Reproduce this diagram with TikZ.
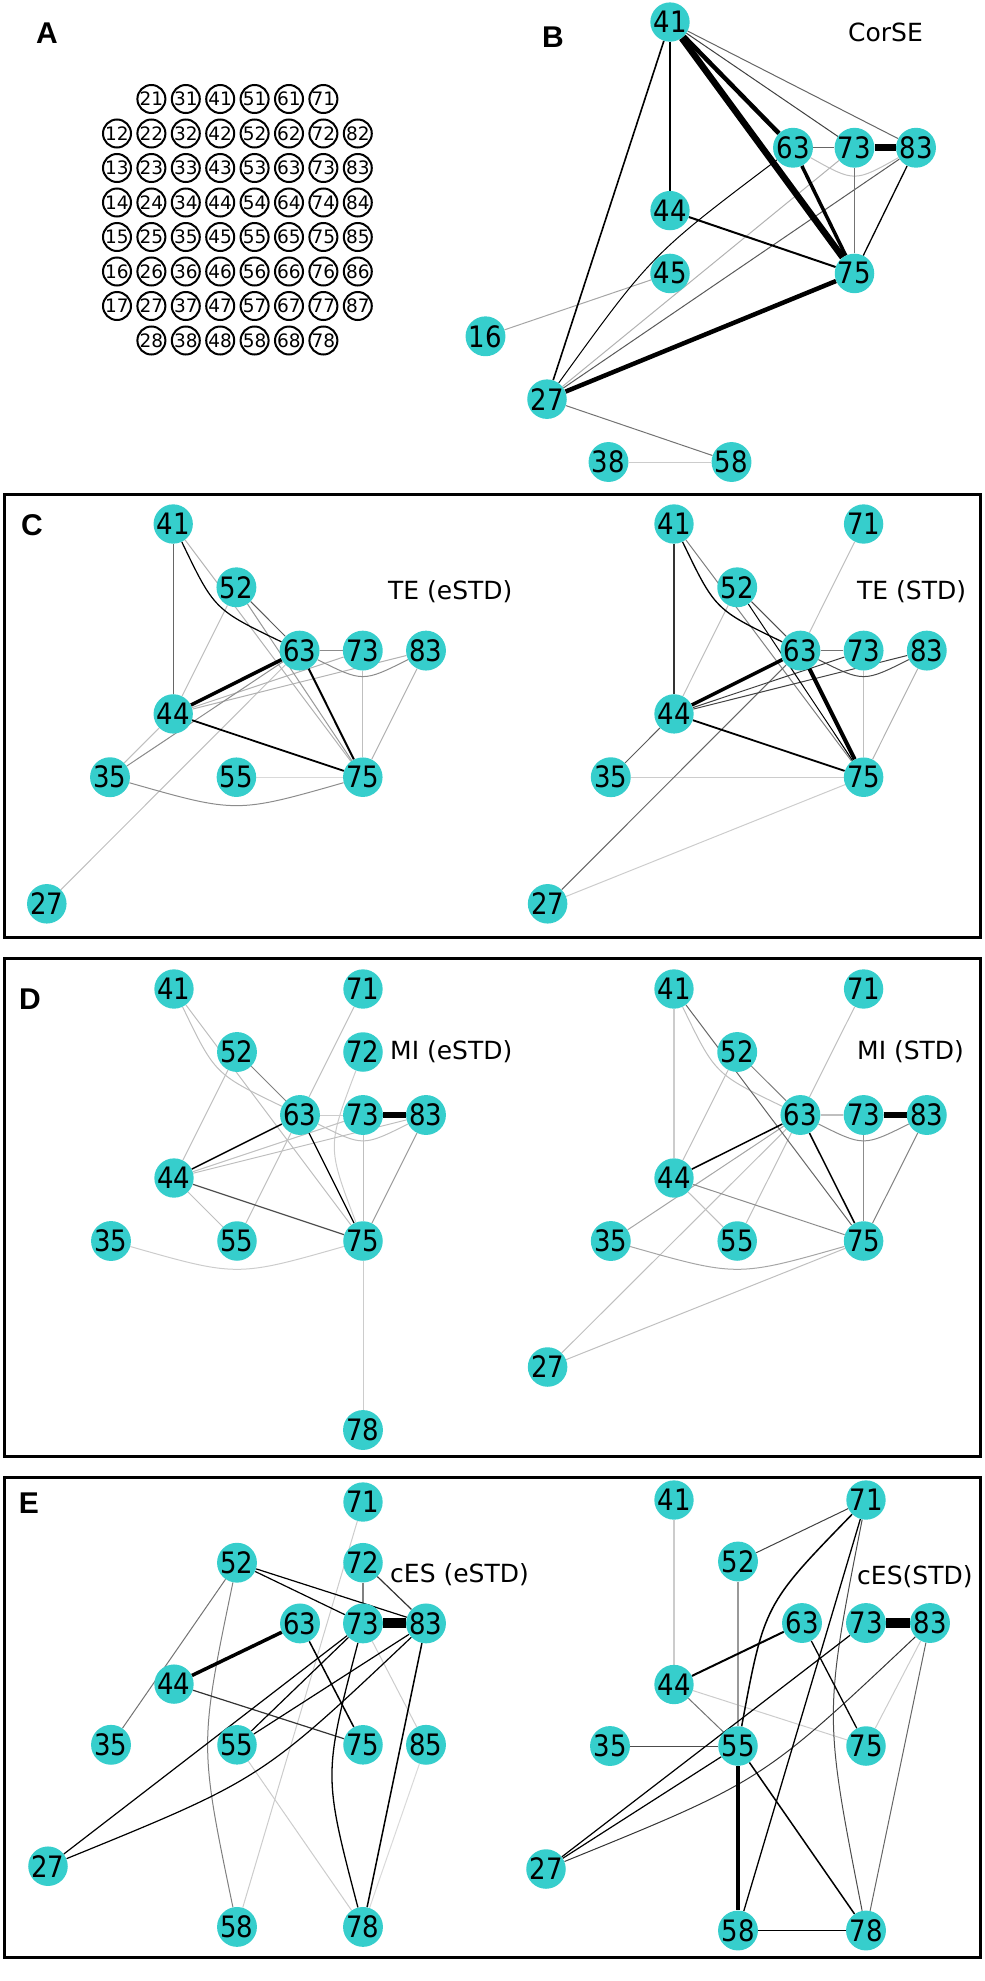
\documentclass[tikz,border=0pt]{standalone}
\usepackage{fontspec}
\newfontfamily\dvs{DejaVu Sans}
\newfontfamily\dvn[FakeStretch=0.88]{DejaVu Sans}
\newfontfamily\lbs{Liberation Sans}
\usetikzlibrary{backgrounds}
\definecolor{nodecyan}{RGB}{54,206,204}
\tikzset{
  nd/.style={circle, fill=nodecyan, inner sep=0pt, minimum size=38.5pt, font=\dvn\fontsize{29.5}{29.5}\selectfont},
  an/.style={circle, draw=black, line width=2pt, fill=white, inner sep=0pt, minimum size=28pt, font=\dvs\fontsize{18.5}{18.5}\selectfont},
  plab/.style={font=\lbs\bfseries\fontsize{30}{30}\selectfont, inner sep=0pt},
  ttl/.style={font=\dvs\fontsize{25}{25}\selectfont, inner sep=0pt, anchor=west},
  panelbox/.style={draw=black, line width=3pt},
  ed/.style 2 args={draw=black!#1, line width=#2pt}
}
\begin{document}
\begin{tikzpicture}[x=1pt, y=-1pt]
\useasboundingbox (0,0) rectangle (985,1981);

% ---------- Panel A ----------
\node[plab] (labA) at (47,33) {A};
\foreach \c in {1,...,8}{
  \foreach \r in {2,...,7}{
    \node[an] (a\c\r) at ({82.6+34.4*\c},{64.5+34.5*\r}) {\c\r};
  }
}
\foreach \c in {2,...,7}{
  \foreach \r in {1,8}{
    \node[an] (a\c\r) at ({82.6+34.4*\c},{64.5+34.5*\r}) {\c\r};
  }
}

% ---------- Panel B ----------
\node[plab] (labB) at (553,37) {B};
\node[ttl] (tB) at (848,32) {CorSE};
\begin{scope}[shift={(424,-40.8)}, x=61.5pt, y=-62.85pt]
  \node[nd] (b41) at (4,1) {41};
  \node[nd] (b63) at (6,3) {63};
  \node[nd] (b73) at (7,3) {73};
  \node[nd] (b83) at (8,3) {83};
  \node[nd] (b44) at (4,4) {44};
  \node[nd] (b45) at (4,5) {45};
  \node[nd] (b75) at (7,5) {75};
  \node[nd] (b16) at (1,6) {16};
  \node[nd] (b27) at (2,7) {27};
  \node[nd] (b38) at (3,8) {38};
  \node[nd] (b58) at (5,8) {58};
  \begin{scope}[on background layer]
    \draw[ed={20}{1}] (b38) -- (b58);
    \draw[ed={35}{1}] (b45) -- (b16);
    \draw[ed={55}{1}] (b27) -- (b58);
    \draw[ed={30}{1}] (b73) -- (b27);
    \draw[ed={25}{1}] (b63) .. controls (7,3.55) .. (b83);
    \draw[ed={65}{1}] (b83) -- (b27);
    \draw[ed={100}{1}] (b63) .. controls (3.7,4.7) .. (b27);
    \draw[ed={55}{1}] (b73) -- (b75);
    \draw[ed={60}{1}] (b41) -- (b83);
    \draw[ed={75}{1}] (b41) -- (b73);
    \draw[ed={60}{1.2}] (b63) -- (b73);
    \draw[ed={100}{1.3}] (b83) -- (b75);
    \draw[ed={100}{1.6}] (b41) -- (b44);
    \draw[ed={100}{1.6}] (b41) -- (b27);
    \draw[ed={100}{2}] (b44) -- (b75);
    \draw[ed={100}{3.5}] (b63) -- (b75);
    \draw[ed={100}{4.5}] (b41) -- (b63);
    \draw[ed={100}{4.5}] (b75) -- (b27);
    \draw[ed={100}{6.5}] (b41) -- (b75);
    \draw[ed={100}{7}] (b73) -- (b83);
  \end{scope}
\end{scope}

% ---------- Panel C ----------
\draw[panelbox] (4,494) rectangle (980,937);
\node[plab] (labC) at (32,525) {C};
\node[ttl] (tCl) at (388,592) {TE (eSTD)};
\node[ttl] (tCr) at (857,592) {TE (STD)};
\begin{scope}[shift={(-79.6,460.7)}, x=63.2pt, y=-63.3pt]
  \node[nd] (cl41) at (4,1) {41};
  \node[nd] (cl52) at (5,2) {52};
  \node[nd] (cl63) at (6,3) {63};
  \node[nd] (cl73) at (7,3) {73};
  \node[nd] (cl83) at (8,3) {83};
  \node[nd] (cl44) at (4,4) {44};
  \node[nd] (cl35) at (3,5) {35};
  \node[nd] (cl55) at (5,5) {55};
  \node[nd] (cl75) at (7,5) {75};
  \node[nd] (cl27) at (2,7) {27};
  \begin{scope}[on background layer]
    \draw[ed={15}{1}] (cl55) -- (cl75);
    \draw[ed={25}{1}] (cl27) -- (cl63);
    \draw[ed={25}{1}] (cl35) -- (cl44);
    \draw[ed={25}{1}] (cl52) -- (cl44);
    \draw[ed={30}{1}] (cl44) -- (cl73);
    \draw[ed={30}{1}] (cl44) -- (cl83);
    \draw[ed={30}{1}] (cl83) -- (cl75);
    \draw[ed={25}{1.2}] (cl73) -- (cl75);
    \draw[ed={30}{1}] (cl41) -- (cl75);
    \draw[ed={40}{1}] (cl52) -- (cl75);
    \draw[ed={45}{1}] (cl35) -- (cl63);
    \draw[ed={45}{1}] (cl35) .. controls (5,5.57) .. (cl75);
    \draw[ed={45}{1}] (cl63) .. controls (7,3.5) .. (cl83);
    \draw[ed={45}{1.3}] (cl63) -- (cl73);
    \draw[ed={65}{1}] (cl52) -- (cl63);
    \draw[ed={60}{1.2}] (cl41) -- (cl44);
    \draw[ed={100}{1.2}] (cl41) .. controls (4.65,2.35) .. (cl63);
    \draw[ed={100}{1.8}] (cl44) -- (cl75);
    \draw[ed={100}{2}] (cl63) -- (cl75);
    \draw[ed={100}{3.5}] (cl63) -- (cl44);
  \end{scope}
\end{scope}
\begin{scope}[shift={(421.2,460.7)}, x=63.2pt, y=-63.3pt]
  \node[nd] (cr41) at (4,1) {41};
  \node[nd] (cr71) at (7,1) {71};
  \node[nd] (cr52) at (5,2) {52};
  \node[nd] (cr63) at (6,3) {63};
  \node[nd] (cr73) at (7,3) {73};
  \node[nd] (cr83) at (8,3) {83};
  \node[nd] (cr44) at (4,4) {44};
  \node[nd] (cr35) at (3,5) {35};
  \node[nd] (cr75) at (7,5) {75};
  \node[nd] (cr27) at (2,7) {27};
  \begin{scope}[on background layer]
    \draw[ed={20}{1}] (cr35) -- (cr75);
    \draw[ed={20}{1}] (cr27) -- (cr75);
    \draw[ed={25}{1}] (cr71) -- (cr63);
    \draw[ed={25}{1}] (cr52) -- (cr44);
    \draw[ed={30}{1}] (cr83) -- (cr75);
    \draw[ed={25}{1.5}] (cr73) -- (cr75);
    \draw[ed={50}{1}] (cr41) -- (cr75);
    \draw[ed={60}{1}] (cr27) -- (cr63);
    \draw[ed={65}{1}] (cr35) -- (cr44);
    \draw[ed={55}{1.3}] (cr63) -- (cr73);
    \draw[ed={70}{1}] (cr52) -- (cr63);
    \draw[ed={70}{1}] (cr63) .. controls (7,3.5) .. (cr83);
    \draw[ed={75}{1}] (cr44) -- (cr73);
    \draw[ed={75}{1}] (cr44) -- (cr83);
    \draw[ed={100}{1}] (cr52) -- (cr75);
    \draw[ed={80}{1.5}] (cr41) -- (cr44);
    \draw[ed={100}{1.3}] (cr41) .. controls (4.65,2.35) .. (cr63);
    \draw[ed={100}{1.8}] (cr44) -- (cr75);
    \draw[ed={100}{3.5}] (cr44) -- (cr63);
    \draw[ed={100}{4}] (cr63) -- (cr75);
  \end{scope}
\end{scope}

% ---------- Panel D ----------
\draw[panelbox] (4,958) rectangle (980,1456);
\node[plab] (labD) at (30,999) {D};
\node[ttl] (tDl) at (390,1052) {MI (eSTD)};
\node[ttl] (tDr) at (857,1052) {MI (STD)};
\begin{scope}[shift={(-78,926)}, x=63pt, y=-63pt]
  \node[nd] (dl41) at (4,1) {41};
  \node[nd] (dl71) at (7,1) {71};
  \node[nd] (dl52) at (5,2) {52};
  \node[nd] (dl72) at (7,2) {72};
  \node[nd] (dl63) at (6,3) {63};
  \node[nd] (dl73) at (7,3) {73};
  \node[nd] (dl83) at (8,3) {83};
  \node[nd] (dl44) at (4,4) {44};
  \node[nd] (dl35) at (3,5) {35};
  \node[nd] (dl55) at (5,5) {55};
  \node[nd] (dl75) at (7,5) {75};
  \node[nd] (dl78) at (7,8) {78};
  \begin{scope}[on background layer]
    \draw[ed={20}{1}] (dl75) -- (dl78);
    \draw[ed={20}{1}] (dl35) .. controls (5,5.57) .. (dl75);
    \draw[ed={20}{1}] (dl72) .. controls (6.43,3.5) .. (dl75);
    \draw[ed={20}{1}] (dl63) -- (dl73);
    \draw[ed={25}{1}] (dl41) .. controls (4.65,2.35) .. (dl63);
    \draw[ed={25}{1}] (dl41) -- (dl75);
    \draw[ed={25}{1}] (dl71) -- (dl63);
    \draw[ed={25}{1}] (dl52) -- (dl44);
    \draw[ed={25}{1}] (dl63) .. controls (7,3.5) .. (dl83);
    \draw[ed={25}{1}] (dl44) -- (dl73);
    \draw[ed={25}{1}] (dl44) -- (dl83);
    \draw[ed={25}{1}] (dl44) -- (dl55);
    \draw[ed={25}{1}] (dl55) -- (dl63);
    \draw[ed={25}{1}] (dl73) -- (dl75);
    \draw[ed={40}{1}] (dl83) -- (dl75);
    \draw[ed={50}{1}] (dl52) -- (dl63);
    \draw[ed={70}{1.2}] (dl44) -- (dl75);
    \draw[ed={100}{1.3}] (dl63) -- (dl75);
    \draw[ed={100}{1.5}] (dl44) -- (dl63);
    \draw[ed={100}{6}] (dl73) -- (dl83);
  \end{scope}
\end{scope}
\begin{scope}[shift={(421.2,926)}, x=63.2pt, y=-63pt]
  \node[nd] (dr41) at (4,1) {41};
  \node[nd] (dr71) at (7,1) {71};
  \node[nd] (dr52) at (5,2) {52};
  \node[nd] (dr63) at (6,3) {63};
  \node[nd] (dr73) at (7,3) {73};
  \node[nd] (dr83) at (8,3) {83};
  \node[nd] (dr44) at (4,4) {44};
  \node[nd] (dr35) at (3,5) {35};
  \node[nd] (dr55) at (5,5) {55};
  \node[nd] (dr75) at (7,5) {75};
  \node[nd] (dr27) at (2,7) {27};
  \begin{scope}[on background layer]
    \draw[ed={20}{1.2}] (dr41) -- (dr44);
    \draw[ed={25}{1}] (dr41) .. controls (4.65,2.35) .. (dr63);
    \draw[ed={25}{1}] (dr71) -- (dr63);
    \draw[ed={25}{1}] (dr52) -- (dr44);
    \draw[ed={25}{1.2}] (dr63) -- (dr73);
    \draw[ed={25}{1}] (dr27) -- (dr63);
    \draw[ed={25}{1}] (dr55) -- (dr63);
    \draw[ed={25}{1}] (dr44) -- (dr55);
    \draw[ed={25}{1}] (dr27) -- (dr75);
    \draw[ed={35}{1}] (dr35) -- (dr63);
    \draw[ed={35}{1}] (dr35) .. controls (5,5.57) .. (dr75);
    \draw[ed={45}{1}] (dr63) .. controls (7,3.5) .. (dr83);
    \draw[ed={45}{1}] (dr44) -- (dr75);
    \draw[ed={45}{1.5}] (dr73) -- (dr75);
    \draw[ed={50}{1}] (dr52) -- (dr63);
    \draw[ed={50}{1}] (dr83) -- (dr75);
    \draw[ed={60}{1}] (dr41) -- (dr75);
    \draw[ed={100}{1.5}] (dr44) -- (dr63);
    \draw[ed={100}{1.5}] (dr63) -- (dr75);
    \draw[ed={100}{6}] (dr73) -- (dr83);
  \end{scope}
\end{scope}

% ---------- Panel E ----------
\draw[panelbox] (4,1477) rectangle (980,1957);
\node[plab] (labE) at (29,1503) {E};
\node[ttl] (tEl) at (390,1575) {cES (eSTD)};
\node[ttl] (tEr) at (857,1577) {cES(STD)};
\begin{scope}[shift={(-78,1441.3)}, x=63pt, y=-60.7pt]
  \node[nd] (el71) at (7,1) {71};
  \node[nd] (el52) at (5,2) {52};
  \node[nd] (el72) at (7,2) {72};
  \node[nd] (el63) at (6,3) {63};
  \node[nd] (el73) at (7,3) {73};
  \node[nd] (el83) at (8,3) {83};
  \node[nd] (el44) at (4,4) {44};
  \node[nd] (el35) at (3,5) {35};
  \node[nd] (el55) at (5,5) {55};
  \node[nd] (el75) at (7,5) {75};
  \node[nd] (el85) at (8,5) {85};
  \node[nd] (el27) at (2,7) {27};
  \node[nd] (el58) at (5,8) {58};
  \node[nd] (el78) at (7,8) {78};
  \begin{scope}[on background layer]
    \draw[ed={20}{1}] (el71) -- (el58);
    \draw[ed={20}{1}] (el73) -- (el85);
    \draw[ed={15}{1}] (el85) -- (el78);
    \draw[ed={20}{1}] (el55) -- (el78);
    \draw[ed={55}{1}] (el52) -- (el35);
    \draw[ed={50}{1}] (el52) .. controls (4.4,5) .. (el58);
    \draw[ed={50}{1.2}] (el72) -- (el73);
    \draw[ed={80}{1.2}] (el72) -- (el83);
    \draw[ed={80}{1.2}] (el44) -- (el75);
    \draw[ed={100}{1.2}] (el52) -- (el73);
    \draw[ed={100}{1.2}] (el52) -- (el83);
    \draw[ed={100}{1.5}] (el63) -- (el75);
    \draw[ed={100}{1.2}] (el73) -- (el55);
    \draw[ed={100}{1.2}] (el73) -- (el27);
    \draw[ed={100}{1.2}] (el83) -- (el55);
    \draw[ed={100}{1.2}] (el83) .. controls (5.38,5.57) .. (el27);
    \draw[ed={100}{1.3}] (el73) .. controls (6.37,5.5) .. (el78);
    \draw[ed={100}{1.5}] (el83) -- (el78);
    \draw[ed={100}{3.5}] (el63) -- (el44);
    \draw[ed={100}{10}] (el73) -- (el83);
  \end{scope}
\end{scope}
\begin{scope}[shift={(418,1438.5)}, x=64pt, y=-61.5pt]
  \node[nd] (er41) at (4,1) {41};
  \node[nd] (er71) at (7,1) {71};
  \node[nd] (er52) at (5,2) {52};
  \node[nd] (er63) at (6,3) {63};
  \node[nd] (er73) at (7,3) {73};
  \node[nd] (er83) at (8,3) {83};
  \node[nd] (er44) at (4,4) {44};
  \node[nd] (er35) at (3,5) {35};
  \node[nd] (er55) at (5,5) {55};
  \node[nd] (er75) at (7,5) {75};
  \node[nd] (er27) at (2,7) {27};
  \node[nd] (er58) at (5,8) {58};
  \node[nd] (er78) at (7,8) {78};
  \begin{scope}[on background layer]
    \draw[ed={20}{1.5}] (er41) -- (er44);
    \draw[ed={20}{1}] (er83) -- (er75);
    \draw[ed={20}{1}] (er44) -- (er75);
    \draw[ed={40}{1.2}] (er52) -- (er55);
    \draw[ed={55}{1}] (er44) -- (er55);
    \draw[ed={60}{1}] (er83) -- (er78);
    \draw[ed={70}{1}] (er35) -- (er55);
    \draw[ed={70}{1}] (er71) .. controls (6.34,4.5) .. (er78);
    \draw[ed={75}{1}] (er71) -- (er52);
    \draw[ed={80}{1}] (er83) .. controls (5.38,5.57) .. (er27);
    \draw[ed={100}{1.2}] (er73) -- (er27);
    \draw[ed={100}{1.2}] (er55) -- (er27);
    \draw[ed={100}{1.3}] (er71) -- (er58);
    \draw[ed={100}{1.5}] (er71) .. controls (5.41,2.7) .. (er55);
    \draw[ed={100}{1.3}] (er63) -- (er75);
    \draw[ed={100}{2}] (er63) -- (er44);
    \draw[ed={100}{1.5}] (er55) -- (er78);
    \draw[ed={100}{1.5}] (er58) -- (er78);
    \draw[ed={100}{4}] (er55) -- (er58);
    \draw[ed={100}{10}] (er73) -- (er83);
  \end{scope}
\end{scope}
\end{tikzpicture}
\end{document}
